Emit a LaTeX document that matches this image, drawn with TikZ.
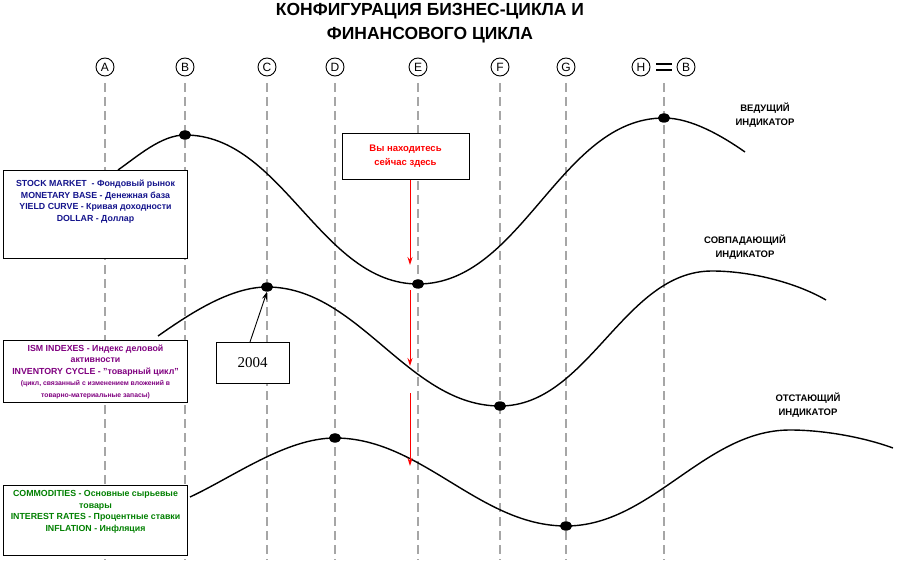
\documentclass[tikz,border=0pt]{standalone}
\usepackage{fontspec}
\setmainfont{Liberation Sans}
\newfontfamily\serifnum{Liberation Serif}
\usetikzlibrary{arrows.meta,shapes.geometric}
\definecolor{navy}{RGB}{20,20,140}
\definecolor{purp}{RGB}{128,0,128}
\definecolor{grn}{RGB}{0,128,0}
\begin{document}
\begin{tikzpicture}[x=1pt,y=-1pt,
  vline/.style={gray!70,line width=1.6pt,dash pattern=on 9pt off 5pt},
  curve/.style={black,line width=1.4pt},
  dot/.style={ellipse,fill=black,minimum width=12pt,minimum height=9pt,inner sep=0},
  letter/.style={circle,draw,line width=0.9pt,inner sep=0.5pt,minimum size=18pt,font=\fontsize{12}{14}\selectfont},
  infobox/.style={draw,line width=1pt,fill=white,align=center,font=\bfseries\fontsize{8.8}{11.5}\selectfont,inner sep=0},
  lbl/.style={align=center,font=\bfseries\fontsize{9.5}{14}\selectfont},
  redarrow/.style={red,line width=1pt,-{Stealth[length=8pt,width=5pt]}}]
\useasboundingbox (0,0) rectangle (899,577);
\node[font=\bfseries\fontsize{17.5}{24}\selectfont,align=center] (title) at (430,23) {КОНФИГУРАЦИЯ БИЗНЕС-ЦИКЛА И\\ФИНАНСОВОГО ЦИКЛА};
\foreach \n/\x in {A/105,B/185,C/267,D/335,E/418,F/500,G/566,H/641}{
  \node[letter] (L\n) at (\x,67) {\n};}
\foreach \n/\x in {A/105,B/185,C/267,D/335,E/418,F/500,G/566,H/664}{
  \coordinate (t\n) at (\x,83); \coordinate (b\n) at (\x,560);
  \draw[vline] (t\n) -- (b\n);}
\node[letter] (LB2) at (686,67) {B};
\draw[line width=1.2pt] (656,64) -- (672,64) (656,70) -- (672,70);
% curves
\coordinate (s1) at (118,170); \node[dot] (p1) at (185,135) {}; \node[dot] (q1) at (418,284) {}; \node[dot] (r1) at (664,118) {}; \coordinate (e1) at (745,152);
\draw[curve] (s1) to[out=35,in=180,looseness=0.8] (p1.center) to[out=0,in=180,looseness=0.9] (q1.center) to[out=0,in=180,looseness=0.9] (r1.center) to[out=0,in=145,looseness=0.8] (e1);
\coordinate (s2) at (158,336); \node[dot] (p2) at (267,287) {}; \node[dot] (q2) at (500,406) {}; \coordinate (r2) at (712,271); \coordinate (e2) at (826,300);
\draw[curve] (s2) to[out=35,in=180,looseness=0.8] (p2.center) to[out=0,in=180,looseness=0.9] (q2.center) to[out=0,in=180,looseness=0.9] (r2) to[out=0,in=150,looseness=0.8] (e2);
\coordinate (s3) at (190,497); \node[dot] (p3) at (335,438) {}; \node[dot] (q3) at (566,526) {}; \coordinate (r3) at (790,430); \coordinate (e3) at (893,448);
\draw[curve] (s3) to[out=25,in=180,looseness=0.8] (p3.center) to[out=0,in=180,looseness=0.9] (q3.center) to[out=0,in=180,looseness=0.9] (r3) to[out=0,in=160,looseness=0.8] (e3);
\foreach \d in {p1,q1,r1,p2,q2,p3,q3} \node[dot] at (\d) {};
% info boxes
\node[infobox,text=navy,minimum width=184pt,minimum height=88pt,anchor=north west] (box1) at (3,170) {STOCK MARKET~ - Фондовый рынок\\MONETARY BASE - Денежная база\\YIELD CURVE - Кривая доходности\\DOLLAR - Доллар\\[16pt]};
\node[infobox,text=purp,minimum width=184pt,minimum height=62pt,anchor=north west] (box2) at (3,340) {ISM INDEXES - Индекс деловой\\активности\\INVENTORY CYCLE - "товарный цикл"\\{\fontsize{6.8}{10}\selectfont(цикл, связанный с изменением вложений в}\\{\fontsize{6.8}{10}\selectfont товарно-материальные запасы)}};
\node[infobox,text=grn,minimum width=184pt,minimum height=70pt,anchor=north west] (box3) at (3,485) {COMMODITIES - Основные сырьевые\\товары\\INTEREST RATES - Процентные ставки\\INFLATION - Инфляция\\[8pt]};
% red box
\node[draw,line width=0.8pt,fill=white,text=red,align=center,minimum width=127pt,minimum height=46pt,font=\bfseries\fontsize{9.5}{14}\selectfont] (here) at (405.5,156) {Вы находитесь\\сейчас здесь};
\coordinate (a1) at (410,180); \coordinate (a1e) at (410,265);
\coordinate (a2) at (410,290); \coordinate (a2e) at (410,366);
\coordinate (a3) at (410,393); \coordinate (a3e) at (410,466);
\draw[redarrow] (a1) -- (a1e);
\draw[redarrow] (a2) -- (a2e);
\draw[redarrow] (a3) -- (a3e);
% 2004
\node[draw,line width=0.8pt,fill=white,minimum width=73pt,minimum height=41pt,font=\serifnum\fontsize{15}{17}\selectfont] (y2004) at (252.5,362.5) {2004};
\coordinate (yy) at (250,342);
\draw[line width=0.9pt,-{Stealth[length=8pt,width=5pt]}] (yy) -- (p2.south);
% labels
\node[lbl] (lead) at (765,115) {ВЕДУЩИЙ\\ИНДИКАТОР};
\node[lbl] (coin) at (745,247) {СОВПАДАЮЩИЙ\\ИНДИКАТОР};
\node[lbl] (lag) at (808,405) {ОТСТАЮЩИЙ\\ИНДИКАТОР};
\end{tikzpicture}
\end{document}
